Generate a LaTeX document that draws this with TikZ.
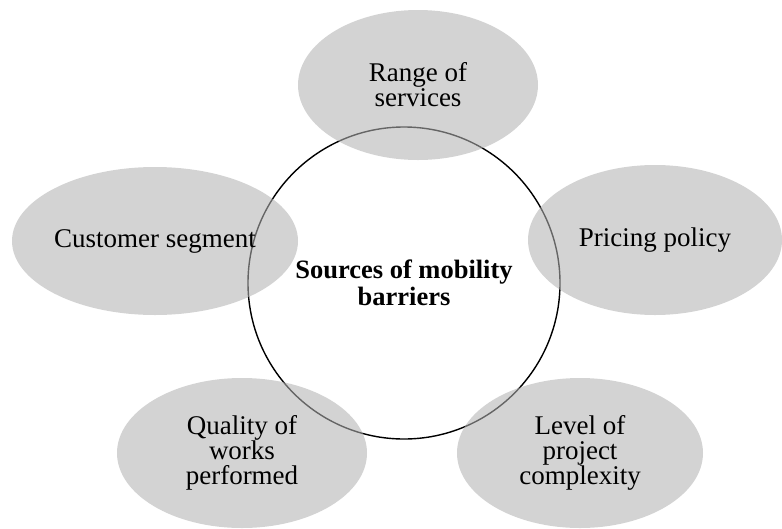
\documentclass[tikz,border=0pt]{standalone}
\usepackage{fontspec}
\setmainfont{Liberation Serif}
\usepackage{tikz}
\usetikzlibrary{shapes.geometric}

\begin{document}
\begin{tikzpicture}[
                x=1pt, y=-1pt,
                every node/.style={inner sep=0pt, align=center, font=\fontsize{27}{25}\selectfont},
                hub/.style={circle, draw=black, line width=1.4pt, minimum size=312pt, font=\fontsize{26.5}{27}\selectfont\bfseries},
                source/.style={ellipse, fill=black!30, fill opacity=0.57, text opacity=1, minimum height=150pt}
            ]
                % Canvas
                \useasboundingbox (0,0) rectangle (782,528);

                % Central circle
                \node[hub] (hub) at (404,283) {Sources of mobility \\ barriers};

                % Barrier sources around it
                \node[source, minimum width=240pt] (range) at (418,85) {Range of \\ services};
                \node[source, minimum width=286pt, minimum height=148pt] (segment) at (155,241) {Customer segment};
                \node[source, minimum width=254pt] (pricing) at (655,240) {Pricing policy};
                \node[source, minimum width=250pt] (quality) at (242,453) {Quality of \\ works \\ performed};
                \node[source, minimum width=246pt] (level) at (580,453) {Level of \\ project \\ complexity};
            \end{tikzpicture}
\end{document}
